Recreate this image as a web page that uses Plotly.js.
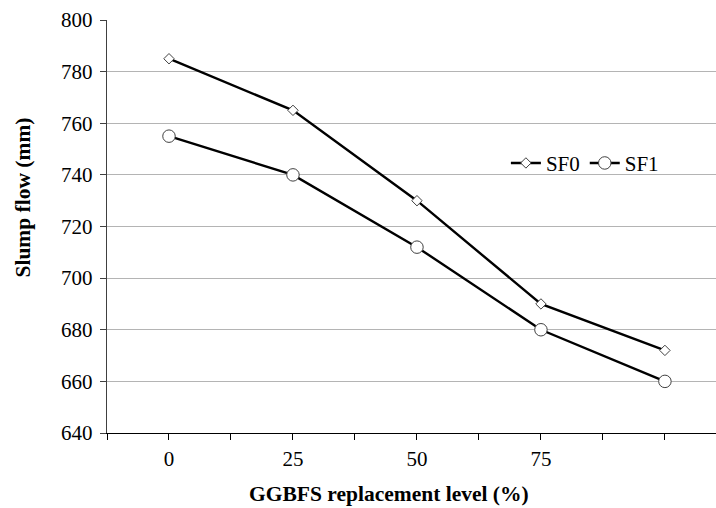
<!DOCTYPE html>
<html>
<head>
<meta charset="utf-8">
<script src="https://cdn.plot.ly/plotly-3.0.1.min.js"></script>
<style>html,body{margin:0;padding:0;background:#fff;}#chart{width:716px;height:508px;}</style>
</head>
<body>
<div id="chart"></div>
<script>
// GGBFS replacement level (%)
const xLevels = [0, 25, 50, 75, 100];
// Slump flow (mm)
const sf0 = [785, 765, 730, 690, 672];
const sf1 = [755, 740, 712, 680, 660];
const seriesNames = ['SF0', 'SF1'];
const xTickVals = [-12.5, 0, 12.5, 25, 37.5, 50, 62.5, 75, 87.5, 100];
const xTickText = ['', '0', '', '25', '', '50', '', '75', '', ''];
const yTickVals = [640, 660, 680, 700, 720, 740, 760, 780, 800];
const xTitle = 'GGBFS replacement level (%)';
const yTitle = 'Slump flow (mm)';

const serif = 'Liberation Serif, Times New Roman, serif';

const traces = [
  {
    x: xLevels, y: sf0, name: seriesNames[0], type: 'scatter', mode: 'lines+markers',
    line: {color: '#000000', width: 2.4},
    marker: {symbol: 'diamond', size: 8, color: '#ffffff', line: {color: '#404040', width: 1}}
  },
  {
    x: xLevels, y: sf1, name: seriesNames[1], type: 'scatter', mode: 'lines+markers',
    line: {color: '#000000', width: 2.4},
    marker: {symbol: 'circle', size: 12.5, color: '#ffffff', line: {color: '#404040', width: 1}}
  }
];

const layout = {
  width: 716, height: 508,
  margin: {l: 107, r: 0, t: 19.5, b: 74.7, pad: 0},
  paper_bgcolor: '#ffffff', plot_bgcolor: '#ffffff',
  font: {family: serif, size: 21, color: '#000000'},
  showlegend: true,
  legend: {
    orientation: 'h', x: 0.655, y: 0.653, xanchor: 'left', yanchor: 'middle',
    font: {family: serif, size: 21, color: '#000000'},
    bgcolor: 'rgba(0,0,0,0)', itemwidth: 30, tracegroupgap: 0
  },
  xaxis: {
    range: [-12.5, 110.3], tickmode: 'array', tickvals: xTickVals, ticktext: xTickText,
    showgrid: false, zeroline: false, showline: true, linecolor: '#000000', linewidth: 1.3,
    ticks: 'outside', ticklen: 6, tickcolor: '#000000', tickwidth: 1,
    tickfont: {family: serif, size: 21, color: '#000000'}
  },
  yaxis: {
    range: [640, 800], tickmode: 'array', tickvals: yTickVals,
    showgrid: true, gridcolor: '#b4b4b4', gridwidth: 1,
    zeroline: false, showline: true, linecolor: '#404040', linewidth: 1.3,
    ticks: 'outside', ticklen: 6, tickcolor: '#404040', tickwidth: 1,
    ticklabelstandoff: 3,
    tickfont: {family: serif, size: 21, color: '#000000'}
  },
  annotations: [
    {text: '<b>' + xTitle + '</b>', xref: 'paper', yref: 'paper', x: 0.463, y: -0.1467,
     xanchor: 'center', yanchor: 'middle', showarrow: false,
     font: {family: serif, size: 21.5, color: '#000000'}},
    {text: '<b>' + yTitle + '</b>', xref: 'paper', yref: 'paper', x: -0.138, y: 0.570,
     xanchor: 'center', yanchor: 'middle', showarrow: false, textangle: -90,
     font: {family: serif, size: 21.5, color: '#000000'}}
  ]
};

Plotly.newPlot('chart', traces, layout, {displayModeBar: false, staticPlot: true});
</script>
</body>
</html>
